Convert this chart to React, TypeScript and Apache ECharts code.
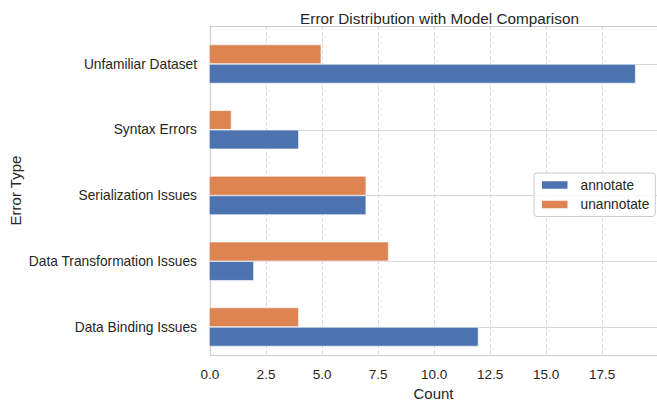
import React, { useEffect, useRef } from "react";
import * as echarts from "echarts";

const categories = [
  "Data Binding Issues",
  "Data Transformation Issues",
  "Serialization Issues",
  "Syntax Errors",
  "Unfamiliar Dataset",
];
const annotateValues = [12, 2, 7, 4, 19];
const unannotateValues = [4, 8, 7, 1, 5];
const xTicks = [0, 2.5, 5, 7.5, 10, 12.5, 15, 17.5];
const xMax = 19.95;

const FONT = "Liberation Sans, Arial, sans-serif";
const TXT = "#262626";
const GRIDC = "#d9d9d9";
const SPINE = "#cccccc";

export default function App() {
  const ref = useRef<HTMLDivElement>(null);
  useEffect(() => {
    document.body.style.margin = "0";
    const chart = echarts.init(ref.current!, null, { renderer: "svg" });
    const left = 209;
    const right = -3;
    chart.setOption({
      animation: false,
      backgroundColor: "#ffffff",
      textStyle: { fontFamily: FONT },
      title: {
        text: "Error Distribution with Model Comparison",
        left: 434.5,
        top: 6,
        textAlign: "center",
        textStyle: { fontFamily: FONT, fontSize: 15.3, fontWeight: "normal", color: TXT },
      },
      legend: {
        orient: "vertical",
        left: 534,
        top: 173,
        padding: [5, 6, 5, 6],
        itemGap: 5.5,
        itemWidth: 27.5,
        itemHeight: 9.6,
        icon: "rect",
        borderColor: "#cccccc",
        borderWidth: 1,
        borderRadius: 3,
        backgroundColor: "rgba(255,255,255,0.8)",
        textStyle: { fontFamily: FONT, fontSize: 13.75, color: TXT, padding: [0, 0, 0, 7] },
        data: ["annotate", "unannotate"],
      },
      grid: [
        { left, right, top: 26, bottom: 43, containLabel: false },
        { left, right, top: 64, bottom: 79, containLabel: false },
      ],
      xAxis: [
        {
          gridIndex: 0,
          type: "value",
          min: 0,
          max: xMax,
          interval: 2.5,
          name: "Count",
          nameLocation: "middle",
          nameGap: 28,
          nameTextStyle: { fontFamily: FONT, fontSize: 15, color: TXT },
          axisLine: { show: true, lineStyle: { color: SPINE, width: 1.2 } },
          axisTick: { show: false },
          axisLabel: {
            fontFamily: FONT,
            fontSize: 13.5,
            color: TXT,
            margin: 12,
            showMaxLabel: false,
            formatter: (v: number) => (xTicks.includes(v) ? v.toFixed(1) : ""),
          },
          splitLine: { show: true, lineStyle: { color: GRIDC, type: [4, 2], width: 1 } },
        },
        {
          gridIndex: 0,
          type: "value",
          position: "top",
          min: 0,
          max: xMax,
          interval: 2.5,
          axisLine: { show: true, lineStyle: { color: SPINE, width: 1.2 } },
          axisTick: { show: false },
          axisLabel: { show: false },
          splitLine: { show: false },
        },
        {
          gridIndex: 1,
          type: "value",
          min: 0,
          max: xMax,
          show: false,
          splitLine: { show: false },
        },
      ],
      yAxis: [
        {
          gridIndex: 0,
          type: "value",
          min: 0,
          max: 1,
          name: "Error Type",
          nameLocation: "middle",
          nameGap: 187,
          nameTextStyle: { fontFamily: FONT, fontSize: 15, color: TXT },
          axisLine: { show: true, lineStyle: { color: SPINE, width: 1.2 } },
          axisTick: { show: false },
          axisLabel: { show: false },
          splitLine: { show: false },
        },
        {
          gridIndex: 1,
          type: "category",
          data: categories,
          boundaryGap: false,
          axisLine: { show: false },
          axisTick: { show: false },
          axisLabel: { fontFamily: FONT, fontSize: 13.75, color: TXT, margin: 12 },
          splitLine: { show: true, lineStyle: { color: GRIDC, width: 1, type: "solid" } },
        },
      ],
      series: [
        {
          name: "unannotate",
          type: "bar",
          xAxisIndex: 2,
          yAxisIndex: 1,
          data: unannotateValues,
          barWidth: 19.5,
          barGap: "0%",
          clip: false,
          itemStyle: { color: "#dd8452", borderColor: "#ffffff", borderWidth: 0.6 },
        },
        {
          name: "annotate",
          type: "bar",
          xAxisIndex: 2,
          yAxisIndex: 1,
          data: annotateValues,
          barWidth: 19.5,
          barGap: "0%",
          clip: false,
          itemStyle: { color: "#4c72b0", borderColor: "#ffffff", borderWidth: 0.6 },
        },
      ],
    });
    return () => chart.dispose();
  }, []);
  return <div ref={ref} style={{ width: 657, height: 406 }} />;
}
